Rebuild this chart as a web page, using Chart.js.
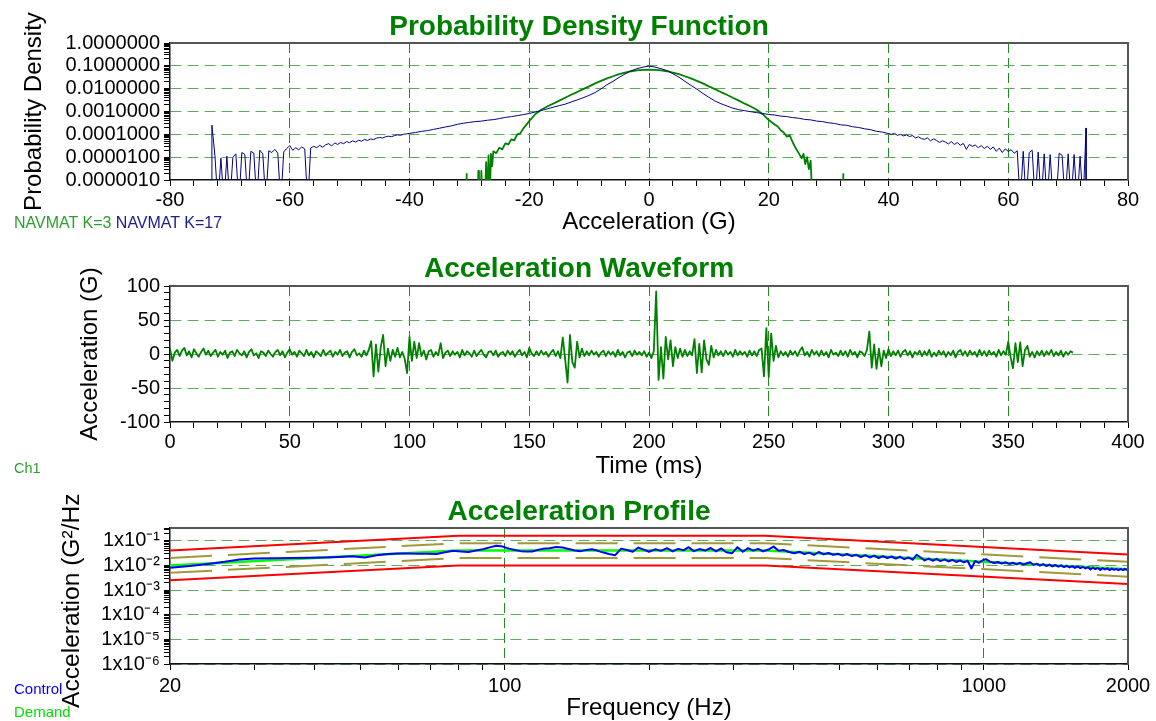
<!DOCTYPE html>
<html>
<head>
<meta charset="utf-8">
<script src="https://cdn.jsdelivr.net/npm/chart.js@4"></script>
<style>
  html, body { margin: 0; padding: 0; background: #fff; overflow: hidden; }
  body { width: 1156px; height: 721px; position: relative; font-family: "Liberation Sans", Arial, sans-serif; }
  canvas { position: absolute; left: 0; }
  .note { position: absolute; left: 14px; white-space: nowrap; line-height: 1; }
</style>
</head>
<body>
<canvas id="pdfChart" width="1156" height="240" style="top:0"></canvas>
<canvas id="waveChart" width="1156" height="245" style="top:240px"></canvas>
<canvas id="profileChart" width="1156" height="230" style="top:493px"></canvas>
<div class="note" style="top:215px;font-size:16px"><span style="color:#2e9e2e">NAVMAT K=3</span> <span style="color:#20208c">NAVMAT K=17</span></div>
<div class="note" style="top:461px;font-size:14.5px;color:#2e9e2e">Ch1</div>
<div class="note" style="top:681px;font-size:15px;color:#0000ff">Control</div>
<div class="note" style="top:704px;font-size:15px;color:#00e000">Demand</div>
<script>
// ---------- Probability Density Function ----------
const k17Accel = [
  -73,-73,-72.5,-72,-71.5,-71,-70.5,-70,-69.5,-69,-68.5,-68,-67.5,-67,-66.5,-66,-65.5,-65,-64.5,-64,
  -63.5,-63,-62.5,-62,-61.5,-61,-60.5,-60,-59.5,-59,-58.5,-58,-57.5,-57,-56.5,-56,-55.5,-55,-54.5,-54,
  -53.5,-53,-52.5,-52,-51.5,-51,-50.5,-50,-49.5,-49,-48.5,-48,-47.5,-47,-46.5,-46,-45.5,-45,-44.5,-44,
  -43.5,-43,-42.5,-42,-41.5,-41,-40.5,
  -40,-39,-38,-37,-36,-35,-34,-33,-32,-31,-30,-29,-28,-27,-26,-25,-24,-23,-22,-21,
  -20,-19,-18,-17,-16,-15,-14,-13,-12,-11,-10,-9,-8,-7,-6,-5,-4,-3,-2,-1,
  0,1,2,3,4,5,6,7,8,9,10,11,12,13,14,15,16,17,18,19,
  20,21,22,23,24,25,26,27,28,29,30,31,32,33,34,35,36,37,38,39,
  40.5,41,41.5,42,42.5,43,43.5,44,44.5,45,45.5,46,46.5,47,47.5,48,48.5,49,49.5,50,
  50.5,51,51.5,52,52.5,53,53.5,54,54.5,55,55.5,56,56.5,57,57.5,58,58.5,59,59.5,60,
  60.5,61,61.5,62,62.5,63,63.5,64,64.5,65,65.5,66,66.5,67,67.5,68,68.5,69,69.5,70,
  70.5,71,71.5,72,72.5,73,73
];
const k17Density = [
  1e-7,2.5e-4,1.2e-5,1e-7,9e-6,1e-7,1.1e-5,1e-7,1e-5,1.4e-5,1e-7,1.6e-5,1.3e-5,1e-7,1.8e-5,1.5e-5,1e-7,2e-5,1.4e-5,1e-7,
  1.9e-5,1.6e-5,2.2e-5,1.5e-5,1e-7,1.7e-5,2.4e-5,3.2e-5,2e-5,2.6e-5,2.1e-5,2.8e-5,2.3e-5,1e-7,2.5e-5,3e-5,2.6e-5,3.3e-5,2.7e-5,3.5e-5,
  3.9e-5,3.1e-5,4.2e-5,3.6e-5,4.4e-5,3.9e-5,4.8e-5,4.3e-5,5.2e-5,4.6e-5,5.5e-5,5e-5,6e-5,5.4e-5,6.3e-5,5.9e-5,6.8e-5,7.3e-5,6.9e-5,7.8e-5,
  8.3e-5,7.9e-5,8.8e-5,9.5e-5,9.1e-5,1e-4,1.05e-4,
  1.1e-4,1.2e-4,1.35e-4,1.45e-4,1.65e-4,1.85e-4,2.1e-4,2.35e-4,2.75e-4,3.05e-4,3.35e-4,3.6e-4,3.8e-4,4.15e-4,4.4e-4,4.9e-4,5.5e-4,5.95e-4,6.6e-4,7.3e-4,
  8.2e-4,9.5e-4,1.1e-3,1.3e-3,1.55e-3,1.8e-3,2.1e-3,2.6e-3,3.2e-3,4e-3,5.1e-3,6.8e-3,9.8e-3,1.5e-2,2.1e-2,3.1e-2,4.4e-2,6e-2,7.5e-2,8.8e-2,
  9.8e-2,8.8e-2,7.5e-2,6.2e-2,4.5e-2,3.2e-2,2.1e-2,1.4e-2,9.5e-3,6.2e-3,4.2e-3,2.9e-3,2.2e-3,1.75e-3,1.4e-3,1.2e-3,1.08e-3,9.8e-4,8.9e-4,8.2e-4,
  7.4e-4,7e-4,6.3e-4,6e-4,5.4e-4,5.1e-4,4.5e-4,4.3e-4,3.8e-4,3.6e-4,3.2e-4,3e-4,2.6e-4,2.5e-4,2.15e-4,2e-4,1.75e-4,1.6e-4,1.35e-4,1.25e-4,
  1e-4,1.1e-4,9e-5,1e-4,8.5e-5,9.5e-5,8e-5,8.8e-5,7e-5,7.8e-5,6.5e-5,6e-5,7e-5,5.2e-5,6.3e-5,5.5e-5,4.4e-5,5.2e-5,4.6e-5,3.8e-5,
  4.8e-5,3.6e-5,4.4e-5,3.3e-5,4e-5,2.2e-5,3.6e-5,3e-5,3.4e-5,2.6e-5,3.2e-5,2.4e-5,3e-5,2.2e-5,2.8e-5,1.8e-5,2.5e-5,1.6e-5,2.3e-5,1.8e-5,
  2.1e-5,1.5e-5,1.9e-5,1e-7,1.8e-5,1e-7,1.6e-5,2e-5,1e-7,1.7e-5,1e-7,1.4e-5,1e-7,1.3e-5,1e-7,1e-7,1.5e-5,1.2e-5,1e-7,1.4e-5,
  1e-7,1.3e-5,1e-7,1.1e-5,1e-7,1.9e-4,1e-7
];
const k3Accel = [
  -30.45,-30.45,-30.3,
  -28.6,-28.5,-28.4,-28.1,-28,-27.8,-27.4,-27.2,-27,-26.8,-26.6,-26.4,-26.2,-26,-25.5,-25,-24.5,-24,
  -23.5,-23,-22.5,-22,-21.5,-21,-20.5,-20,
  -19,-18,-17,-16,-15,-14,-13,-12,-11,-10,-9,-8,-7,-6,-5,-4,-3,-2,-1,
  0,1,2,3,4,5,6,7,8,9,10,11,12,13,14,15,16,17,18,19,20,
  20.5,21,21.5,22,22.5,23,23.5,24,24.5,25,25.5,25.8,26.1,26.4,26.7,27,27.3,27.5,
  32.45,32.45
];
const k3Density = [
  1e-7,2e-6,null,
  1e-7,2.5e-6,1e-7,1e-7,2.5e-6,1e-7,1e-7,6e-6,1e-7,1.2e-5,1e-7,1.4e-5,4e-6,1.8e-5,1.5e-5,2.6e-5,2.2e-5,4e-5,
  3.6e-5,6e-5,5.5e-5,1e-4,1.1e-4,1.8e-4,2.6e-4,3.8e-4,
  7.6e-4,1.2e-3,1.66e-3,2.2e-3,3e-3,4e-3,5.4e-3,7.1e-3,9.5e-3,1.26e-2,1.7e-2,2.2e-2,2.8e-2,3.5e-2,4.3e-2,5e-2,5.8e-2,6.3e-2,6.6e-2,
  6.8e-2,6.6e-2,6.3e-2,5.8e-2,5e-2,4.3e-2,3.5e-2,2.8e-2,2.2e-2,1.7e-2,1.26e-2,9.5e-3,7.1e-3,5.4e-3,4e-3,3e-3,2.2e-3,1.66e-3,1.2e-3,7.6e-4,4.2e-4,
  3.4e-4,2.7e-4,2.2e-4,1.5e-4,1.2e-4,8e-5,9e-5,4.5e-5,2.5e-5,1.5e-5,9e-6,1.4e-5,5e-6,1e-5,3e-6,7e-6,1e-7,null,
  1e-7,2e-6
];
const densityDecades = [1e-6, 1e-5, 1e-4, 1e-3, 1e-2, 1e-1, 1];
const densityLabels = ['0.0000010','0.0000100','0.0001000','0.0010000','0.0100000','0.1000000','1.0000000'];
const accelLabels = [-80, -60, -40, -20, 0, 20, 40, 60, 80];

// ---------- Acceleration Waveform (1 ms samples) ----------
const sampleMs = 1;
const waveG = [
  8,-10,2,6,-3,5,9,-2,4,-5,7,1,-4,3,8,-1,5,-3,2,6,
  -4,3,-1,5,-6,2,4,-3,6,1,-2,4,-5,3,7,-2,1,-6,4,2,
  -3,5,0,-4,3,6,-2,4,-5,2,7,-1,3,-4,5,1,-3,6,-2,3,
  -5,4,1,-3,6,-2,2,5,-4,3,-1,6,-3,2,4,-5,3,7,-2,1,
  -4,5,-2,6,19,-33,14,-26,10,28,-18,8,-10,6,-4,9,-5,3,-7,-28,
  25,-10,18,-6,16,-3,5,-8,4,6,-4,3,-2,16,-6,2,5,-3,4,-1,
  3,-5,6,-2,4,1,-4,5,-3,2,6,-1,-5,3,4,-2,5,-4,1,3,
  -3,5,-1,4,-4,2,6,-2,3,-5,9,1,-3,4,-2,5,-1,3,-4,2,
  6,-3,4,-6,24,-8,-42,28,-12,-20,18,-5,8,-3,4,-2,5,-1,3,-4,
  2,5,-3,4,-1,3,-4,6,-2,3,-5,2,4,-3,5,-1,3,-2,4,-4,
  2,-6,4,92,-38,10,-36,25,-8,20,-18,10,-6,8,-4,6,-3,4,-2,22,
  -28,15,-27,20,-8,-16,12,-5,6,-2,4,-3,5,-1,3,-4,6,-2,4,-1,
  3,-4,5,-2,4,-3,6,8,-33,38,-34,30,-10,12,-5,4,-2,3,-4,5,
  -1,4,-3,5,10,-2,3,-4,6,-1,4,-3,5,-2,3,-5,6,-1,2,-3,
  5,-2,4,-4,6,-1,3,-5,4,2,-3,6,33,-20,14,-22,8,-18,5,-6,
  7,-3,4,-2,5,-4,3,6,-2,4,-5,3,-1,5,-3,4,-2,6,-4,2,
  -3,5,-1,4,-4,3,-2,5,-5,3,6,-2,4,-3,5,-1,3,-4,6,-2,
  4,-3,5,-1,3,-4,6,-2,4,-1,18,-5,-21,16,-12,17,-18,6,12,-4,
  3,-5,4,-2,5,-3,4,-1,6,-3,3,-2,5,-4,3,-1,4,2
];
const timeLabels = [0, 50, 100, 150, 200, 250, 300, 350, 400];
const waveLabels = [-100, -50, 0, 50, 100];

// ---------- Acceleration Profile ----------
const profileFreq = [20, 80, 350, 2000];
const demandPsd = [0.01, 0.04, 0.04, 0.007];
const abortHigh = [0.04, 0.16, 0.16, 0.028];
const abortLow = [0.0025, 0.01, 0.01, 0.00175];
const alarmHigh = [0.02, 0.08, 0.08, 0.014];
const alarmLow = [0.005, 0.02, 0.02, 0.0035];
const ctrlFreq = [
  20,22,24,26,28,30,33,36,39,42,45,48,51,54,57,60,
  63,66,69,72,75,78,81,84,87,90,93,96,99,102,105,108,111,114,117,120,
  124,128,132,136,140,144,148,152,156,160,165,170,175,180,185,190,195,200,
  206,212,218,224,230,236,242,248,255,262,269,276,283,290,298,306,314,322,330,338,346,355,364,373,382,392,
  402,412,422,432,442,452,463,474,485,496,507,518,530,542,554,566,578,590,603,616,629,642,655,668,682,
  696,710,724,738,752,767,782,797,812,828,844,860,876,892,908,925,942,959,976,993,
  1010,1030,1050,1070,1090,1110,1130,1150,1170,1190,1210,1230,1250,1270,1290,1310,1330,1350,1370,1390,
  1410,1430,1450,1470,1490,1510,1530,1550,1570,1590,1610,1630,1650,1670,1690,1710,1730,1750,1770,1790,
  1810,1830,1850,1870,1890,1910,1930,1950,1970,1990,2000
];
const ctrlPsd = [
  0.008,0.0095,0.0115,0.014,0.0175,0.019,0.0195,0.02,0.0205,0.021,0.022,0.0235,0.021,0.026,0.029,0.0305,
  0.0305,0.03,0.0295,0.029,0.034,0.039,0.037,0.035,0.04,0.045,0.054,0.063,0.058,0.048,0.042,0.038,0.037,0.037,0.042,0.047,
  0.05,0.056,0.053,0.046,0.04,0.038,0.042,0.045,0.04,0.034,0.029,0.026,0.048,0.042,0.036,0.053,0.044,0.036,
  0.045,0.039,0.05,0.037,0.047,0.041,0.055,0.038,0.046,0.04,0.051,0.037,0.049,0.034,0.031,0.055,0.036,0.05,0.04,0.047,0.037,0.044,0.058,0.039,0.042,0.035,
  0.031,0.036,0.029,0.033,0.027,0.035,0.028,0.032,0.027,0.03,0.025,0.029,0.024,0.027,0.022,0.026,0.021,0.025,0.02,0.024,0.02,0.023,0.019,0.0225,0.018,
  0.021,0.017,0.027,0.021,0.016,0.019,0.0155,0.0185,0.015,0.0175,0.0145,0.017,0.0138,0.016,0.0133,0.0155,0.0075,0.0152,0.0128,0.0158,
  0.018,0.0142,0.0125,0.0138,0.0119,0.0133,0.0115,0.0128,0.011,0.0126,0.0108,0.0122,0.0135,0.0105,0.0118,0.0098,0.0112,0.0095,0.0108,0.0092,
  0.0104,0.0089,0.0101,0.0086,0.0097,0.0083,0.0094,0.0079,0.0091,0.0078,0.0088,0.0075,0.0086,0.0068,0.0082,0.0071,0.0079,0.0066,0.0078,0.0069,
  0.0076,0.0065,0.0074,0.0066,0.0073,0.0064,0.0072,0.0065,0.0073,0.0066,0.0072
];
const psdDecades = [1e-6, 1e-5, 1e-4, 1e-3, 1e-2, 1e-1];
const psdLabels = ['1x10\u207B\u2076','1x10\u207B\u2075','1x10\u207B\u2074','1x10\u207B\u00B3','1x10\u207B\u00B2','1x10\u207B\u00B9'];
const freqDecades = [10, 100, 1000];
const freqLabels = [20, 100, 1000, 2000];

// ---------- styling ----------
const FONT = '"Liberation Sans", Arial, sans-serif';
Chart.defaults.font.family = FONT;
Chart.defaults.color = '#000';
Chart.defaults.animation = false;

const TITLE_GREEN = '#008000';
const GRID_V = '#228b22';
const GRID_H = '#5aae5a';
const NONE = 'rgba(0,0,0,0)';

// top and right edge of the plot box
const frame = {
  id: 'frame',
  afterDraw(chart) {
    const {ctx, chartArea: a} = chart;
    ctx.save();
    ctx.strokeStyle = '#555';
    ctx.lineWidth = 2;
    ctx.beginPath();
    ctx.moveTo(a.left, a.top);
    ctx.lineTo(a.right, a.top);
    ctx.lineTo(a.right, a.bottom);
    ctx.stroke();
    ctx.restore();
  }
};

// vertical axis title drawn by hand so it can sit where the original puts it
function sideTitle(text, x, y, align, size) {
  return {
    id: 'sideTitle',
    afterDraw(chart) {
      const ctx = chart.ctx;
      const a = chart.chartArea;
      ctx.save();
      ctx.translate(x, y === null ? (a.top + a.bottom) / 2 : y);
      ctx.rotate(-Math.PI / 2);
      ctx.font = (size || 24) + 'px ' + FONT;
      ctx.fillStyle = '#000';
      ctx.textAlign = align;
      ctx.textBaseline = 'middle';
      ctx.fillText(text, 0, 0);
      ctx.restore();
    }
  };
}

function pairs(xs, ys) {
  return xs.map((x, i) => ({x: x, y: ys[i]}));
}
function linearTicks(lo, hi, step) {
  const out = [];
  for (let v = lo; v <= hi; v += step) out.push({value: v});
  return out;
}
function logTicks(decades, lo, hi) {
  const out = [];
  decades.forEach(d => {
    for (let m = 1; m < 10; m++) {
      const v = +(m * d).toPrecision(6);
      if (v >= lo * 0.9999 && v <= hi * 1.0001) out.push({value: v});
    }
  });
  if (!out.some(t => Math.abs(t.value / hi - 1) < 1e-6)) out.push({value: hi});
  return out;
}
function findIn(list, v) {
  return list.findIndex(d => (d === 0 ? v === 0 : Math.abs(v / d - 1) < 1e-6));
}

function axis(o) {
  return {
    type: o.type,
    min: o.min,
    max: o.max,
    afterBuildTicks: s => { s.ticks = o.ticks(); },
    afterFit: s => {
      if (o.width) s.width = o.width;
      if (o.height) s.height = o.height;
    },
    ticks: {
      autoSkip: false, maxRotation: 0, minRotation: 0,
      padding: o.tickPad, font: {size: 20}, color: '#000',
      callback: o.label
    },
    grid: {
      color: c => (c.tick && o.isGrid(c.tick.value)) ? o.gridColor : NONE,
      lineWidth: 1, tickLength: 6, tickColor: '#000', tickWidth: 1
    },
    border: {display: true, color: '#111', width: 1.5, dash: o.dash},
    title: {display: !!o.title, text: o.title || '', font: {size: 24}, color: '#000', padding: o.titlePad || 0}
  };
}

function chartTitle(text, top, bottom) {
  return {display: true, text: text, color: TITLE_GREEN, font: {size: 28, weight: 'bold', lineHeight: 1}, padding: {top: top, bottom: bottom}};
}

const lineBase = {pointRadius: 0, tension: 0, borderJoinStyle: 'round', fill: false};
const pad = {left: 30, right: 28, top: 0, bottom: 0};

// ---------- chart 1 ----------
new Chart(document.getElementById('pdfChart'), {
  type: 'line',
  data: {
    datasets: [
      Object.assign({label: 'NAVMAT K=17', data: pairs(k17Accel, k17Density), borderColor: '#000080', borderWidth: 1}, lineBase),
      Object.assign({label: 'NAVMAT K=3', data: pairs(k3Accel, k3Density), borderColor: '#008000', borderWidth: 1.8}, lineBase)
    ]
  },
  options: {
    responsive: false,
    layout: {padding: pad},
    plugins: {legend: {display: false}, tooltip: {enabled: false}, title: chartTitle('Probability Density Function', 13.6, 1.4)},
    scales: {
      x: axis({
        type: 'linear', min: -80, max: 80, height: 60,
        ticks: () => linearTicks(-80, 80, 4),
        label: v => accelLabels.includes(v) ? String(v) : '',
        isGrid: v => accelLabels.includes(v) && v > -80 && v < 80,
        gridColor: GRID_V, dash: [10, 5], tickPad: 2,
        title: 'Acceleration (G)', titlePad: {top: 0, bottom: 3.6}
      }),
      y: axis({
        type: 'logarithmic', min: 1e-6, max: 1, width: 140,
        ticks: () => logTicks(densityDecades, 1e-6, 1),
        label: v => { const i = findIn(densityDecades, v); return i >= 0 ? densityLabels[i] : ''; },
        isGrid: v => { const i = findIn(densityDecades, v); return i > 0 && i < densityDecades.length - 1; },
        gridColor: GRID_H, dash: [11, 6], tickPad: 4
      })
    }
  },
  plugins: [frame, sideTitle('Probability Density', 34.8, null, 'center')]
});

// ---------- chart 2 ----------
new Chart(document.getElementById('waveChart'), {
  type: 'line',
  data: {
    datasets: [
      Object.assign({label: 'Ch1', data: waveG.map((g, i) => ({x: i * sampleMs, y: g})), borderColor: '#008000', borderWidth: 1.8}, lineBase)
    ]
  },
  options: {
    responsive: false,
    layout: {padding: pad},
    plugins: {legend: {display: false}, tooltip: {enabled: false}, title: chartTitle('Acceleration Waveform', 15.3, 2.7)},
    scales: {
      x: axis({
        type: 'linear', min: 0, max: 400, height: 63,
        ticks: () => linearTicks(0, 400, 10),
        label: v => timeLabels.includes(v) ? String(v) : '',
        isGrid: v => timeLabels.includes(v) && v > 0 && v < 400,
        gridColor: GRID_V, dash: [10, 5], tickPad: 2.5,
        title: 'Time (ms)', titlePad: {top: 0, bottom: 4.3}
      }),
      y: axis({
        type: 'linear', min: -100, max: 100, width: 140,
        ticks: () => linearTicks(-100, 100, 10),
        label: v => waveLabels.includes(v) ? String(v) : '',
        isGrid: v => waveLabels.includes(v) && v > -100 && v < 100,
        gridColor: GRID_H, dash: [11, 6], tickPad: 4
      })
    }
  },
  plugins: [frame, sideTitle('Acceleration (G)', 90.7, null, 'center')]
});

// ---------- chart 3 ----------
new Chart(document.getElementById('profileChart'), {
  type: 'line',
  data: {
    datasets: [
      Object.assign({label: 'Control', data: pairs(ctrlFreq, ctrlPsd), borderColor: '#0000ff', borderWidth: 2}, lineBase),
      Object.assign({label: 'Demand', data: pairs(profileFreq, demandPsd), borderColor: '#00ff00', borderWidth: 2.5}, lineBase),
      Object.assign({label: 'Alarm high', data: pairs(profileFreq, alarmHigh), borderColor: '#a09a3a', borderWidth: 2, borderDash: [42, 16]}, lineBase),
      Object.assign({label: 'Alarm low', data: pairs(profileFreq, alarmLow), borderColor: '#a09a3a', borderWidth: 2, borderDash: [42, 16]}, lineBase),
      Object.assign({label: 'Abort high', data: pairs(profileFreq, abortHigh), borderColor: '#ff0000', borderWidth: 2}, lineBase),
      Object.assign({label: 'Abort low', data: pairs(profileFreq, abortLow), borderColor: '#ff0000', borderWidth: 2}, lineBase)
    ]
  },
  options: {
    responsive: false,
    layout: {padding: pad},
    plugins: {legend: {display: false}, tooltip: {enabled: false}, title: chartTitle('Acceleration Profile', 4.8, 2.2)},
    scales: {
      x: axis({
        type: 'logarithmic', min: 20, max: 2000, height: 59,
        ticks: () => logTicks(freqDecades, 20, 2000),
        label: v => findIn(freqLabels, v) >= 0 ? String(Math.round(v)) : '',
        isGrid: v => findIn([100, 1000], v) >= 0,
        gridColor: GRID_V, dash: [10, 5], tickPad: 4.8,
        title: 'Frequency (Hz)', titlePad: {top: 0, bottom: 0}
      }),
      y: axis({
        type: 'logarithmic', min: 1e-6, max: 0.33, width: 140,
        ticks: () => logTicks(psdDecades, 1e-6, 0.33),
        label: v => { const i = findIn(psdDecades, v); return i >= 0 ? psdLabels[i] : ''; },
        isGrid: v => findIn(psdDecades, v) >= 0,
        gridColor: GRID_H, dash: [11, 6], tickPad: 4
      })
    }
  },
  plugins: [frame, sideTitle('Acceleration (G\u00B2/Hz)', 72.3, 215, 'left', 24.6)]
});
</script>
</body>
</html>
